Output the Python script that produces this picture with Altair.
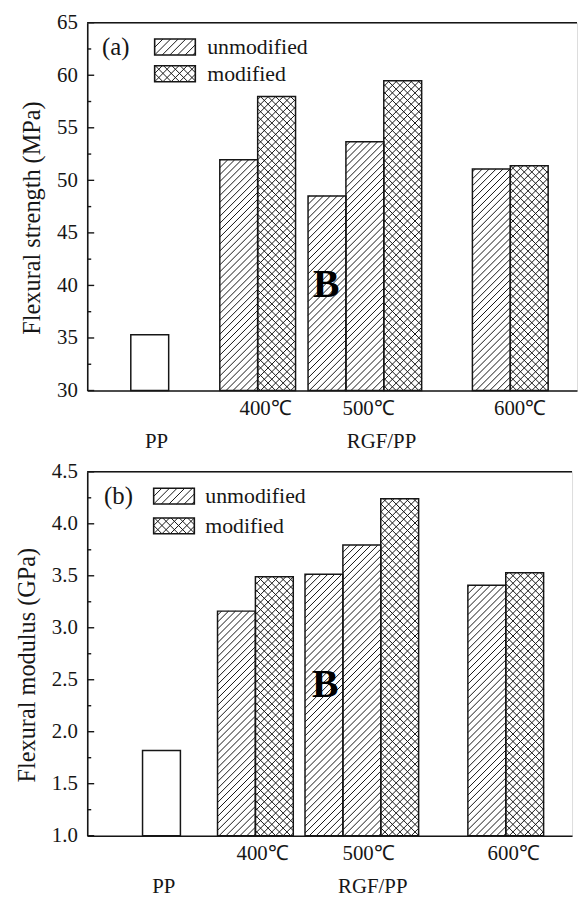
import altair as alt
import numpy as np
import pandas as pd

# ---------------- data ----------------
groups = ["PP", "400℃", "400℃", "500℃", "500℃", "500℃", "600℃", "600℃"]
series = ["neat", "unmodified", "modified", "unmodified", "unmodified", "modified", "unmodified", "modified"]
strength = [35.3, 51.95, 57.97, 48.52, 53.68, 59.48, 51.07, 51.38]      # MPa
modulus = [1.82, 3.16, 3.49, 3.515, 3.795, 4.24, 3.41, 3.53]             # GPa
# bar left edges on the (unlabelled) x axis, in bar-width units
x_strength = [1.15, 3.50, 4.50, 5.83, 6.83, 7.83, 10.17, 11.17]
x_modulus = [1.46, 3.44, 4.44, 5.75, 6.75, 7.75, 10.05, 11.05]

temp_labels = ["400℃", "500℃", "600℃"]
temp_x_strength = [4.71, 7.43, 11.43]
temp_x_modulus = [4.63, 7.43, 11.26]
sample_labels = ["PP", "RGF/PP"]
sample_x_strength = [1.83, 7.77]
sample_x_modulus = [2.02, 7.54]

legend_labels = ["unmodified", "modified"]
legend_series = ["unmodified", "modified"]

strength_ticks = [30, 35, 40, 45, 50, 55, 60, 65]
strength_minor = [32.5, 37.5, 42.5, 47.5, 52.5, 57.5, 62.5]
modulus_ticks = [1.0, 1.5, 2.0, 2.5, 3.0, 3.5, 4.0, 4.5]
modulus_minor = [1.25, 1.75, 2.25, 2.75, 3.25, 3.75, 4.25]

# ---------------- style ----------------
SERIF = "Liberation Serif"
INK = "#161616"
BAR_PX = 38.2          # pixels per x unit (one bar width)
HATCH = {"neat": [], "unmodified": [("/", 7.0)], "modified": [("/", 7.6), ("\\", 7.6)]}


def hatch_segments(w, h, spacing, kind, phase=0.0):
    """Line segments of a hatch pattern inside a w x h box (t measured upward)."""
    segs = []
    if kind == "/":
        lo, hi = -w, h
    else:
        lo, hi = 0.0, w + h
    k = np.ceil((lo - phase) / spacing)
    c = phase + k * spacing
    while c < hi:
        if kind == "/":
            u1, u2 = max(0.0, -c), min(w, h - c)
            if u2 - u1 > 0.4:
                segs.append((u1, u1 + c, u2, u2 + c))
        else:
            u1, u2 = max(0.0, c - h), min(w, c)
            if u2 - u1 > 0.4:
                segs.append((u1, c - u1, u2, c - u2))
        c += spacing
    return segs


def make_panel(values, lefts, y_lo, y_hi, major, minor, fmt, title, W, H,
               letter, letter_pos, t_x, s_x, leg, b_pos):
    x_hi = W / BAR_PX
    sx = BAR_PX
    sy = H / (y_hi - y_lo)
    xs = alt.Scale(domain=[0, x_hi], nice=False, zero=False)
    ys = alt.Scale(domain=[y_lo, y_hi], nice=False, zero=False)
    xaxis = alt.Axis(labels=False, ticks=False, grid=False, title=None,
                     domainColor=INK, domainWidth=1.6)
    yaxis = alt.Axis(values=major, format=fmt, title=title, grid=False, ticks=False,
                     tickSize=0, labelPadding=10, labelFont=SERIF, labelFontSize=21,
                     labelColor=INK, domainColor=INK, domainWidth=1.6,
                     titleFont=SERIF, titleFontSize=24.5, titleFontWeight="normal",
                     titleColor=INK, titlePadding=12, titleY=H / 2 + 11)

    def X(f):
        return alt.X(f, type="quantitative", scale=xs, axis=xaxis)

    def Y(f):
        return alt.Y(f, type="quantitative", scale=ys, axis=yaxis)

    bars = pd.DataFrame({"group": groups, "series": series, "value": values, "left": lefts})
    bars["right"] = bars["left"] + 1.0
    bars["base"] = y_lo

    rows = []
    for _, b in bars.iterrows():
        w = sx * (b.right - b.left)
        h = sy * (b.value - y_lo)
        left_px = b.left * sx
        for kind, sp in HATCH[b.series]:
            ph = (left_px % sp) if kind == "/" else ((-left_px) % sp)
            for u1, t1, u2, t2 in hatch_segments(w, h, sp, kind, ph):
                rows.append({"hx": b.left + u1 / sx, "hy": y_lo + t1 / sy,
                             "hx2": b.left + u2 / sx, "hy2": y_lo + t2 / sy})
    hatch_df = pd.DataFrame(rows)

    hatch_layer = alt.Chart(hatch_df).mark_rule(color=INK, strokeWidth=1).encode(
        x=X("hx"), x2="hx2", y=Y("hy"), y2="hy2")
    outline = alt.Chart(bars).mark_rect(fillOpacity=0, stroke=INK, strokeWidth=1.5).encode(
        x=X("left"), x2="right", y=Y("value"), y2="base")

    one = pd.DataFrame({"k": [0]})
    top_line = alt.Chart(one).mark_rule(color=INK, strokeWidth=1.6).encode(
        x=alt.value(0), x2=alt.value(W), y=alt.value(0))
    major_ticks = alt.Chart(pd.DataFrame({"v": major})).mark_rule(color=INK, strokeWidth=1.4).encode(
        y=Y("v"), x=alt.value(0), x2=alt.value(7))
    minor_ticks = alt.Chart(pd.DataFrame({"v": minor})).mark_rule(color=INK, strokeWidth=1.4).encode(
        y=Y("v"), x=alt.value(0), x2=alt.value(4))

    temp_text = alt.Chart(pd.DataFrame({"label": temp_labels, "pos": t_x})).mark_text(
        font=SERIF, fontSize=21, color=INK, baseline="alphabetic", align="center").encode(
        x=X("pos"), y=alt.value(H + 25), text="label:N")
    sample_text = alt.Chart(pd.DataFrame({"label": sample_labels, "pos": s_x})).mark_text(
        font=SERIF, fontSize=21, color=INK, baseline="alphabetic", align="center").encode(
        x=X("pos"), y=alt.value(H + 58), text="label:N")

    # legend (pixel space)
    lx0, lw, lh, lrows, ltx = leg
    lrect = pd.DataFrame({"label": legend_labels, "series": legend_series, "cy": lrows})
    lrect["rx1"] = lx0
    lrect["rx2"] = lx0 + lw
    lrect["ry1"] = lrect["cy"] - lh / 2
    lrect["ry2"] = lrect["cy"] + lh / 2
    lrows_seg = []
    for _, r in lrect.iterrows():
        for kind, sp in HATCH[r.series]:
            for u1, t1, u2, t2 in hatch_segments(lw, lh, sp * 1.1, kind, 0.0):
                lrows_seg.append({"px": r.rx1 + u1, "py": r.ry2 - t1,
                                  "px2": r.rx1 + u2, "py2": r.ry2 - t2})
    leg_hatch = alt.Chart(pd.DataFrame(lrows_seg)).mark_rule(color=INK, strokeWidth=1).encode(
        x=alt.X("px:Q", scale=None), x2="px2", y=alt.Y("py:Q", scale=None), y2="py2")
    leg_box = alt.Chart(lrect).mark_rect(fillOpacity=0, stroke=INK, strokeWidth=1.6).encode(
        x=alt.X("rx1:Q", scale=None), x2="rx2", y=alt.Y("ry1:Q", scale=None), y2="ry2")
    leg_text = alt.Chart(lrect).mark_text(font=SERIF, fontSize=22, color=INK,
                                          align="left", baseline="middle").encode(
        x=alt.value(ltx), y=alt.Y("cy:Q", scale=None), text="label:N")

    letter_mark = alt.Chart(one).mark_text(text=letter, font=SERIF, fontSize=25, color=INK,
                                           align="left", baseline="middle").encode(
        x=alt.value(letter_pos[0]), y=alt.value(letter_pos[1]))
    b_mark = alt.Chart(one).mark_text(text="B", font=SERIF, fontSize=40, fontWeight="bold",
                                      color="#000000", align="center", baseline="middle").encode(
        x=alt.value(b_pos[0]), y=alt.value(b_pos[1]))

    return alt.layer(hatch_layer, outline, top_line, major_ticks, minor_ticks,
                     temp_text, sample_text, leg_hatch, leg_box, leg_text,
                     letter_mark, b_mark).properties(width=W, height=H)


panel_a = make_panel(strength, x_strength, 30, 65, strength_ticks, strength_minor, "d",
                     "Flexural strength (MPa)", 494, 371, "(a)", (15, 25),
                     temp_x_strength, sample_x_strength,
                     (68, 41, 16, [24.5, 51.5], 121), (241, 265))
panel_b = make_panel(modulus, x_modulus, 1.0, 4.5, modulus_ticks, modulus_minor, ".1f",
                     "Flexural modulus (GPa)", 489, 367, "(b)", (17, 24),
                     temp_x_modulus, sample_x_modulus,
                     (67, 41, 16, [24.5, 54.5], 119), (240, 215))

chart = alt.concat(panel_a, panel_b, columns=1, spacing=7, align="none").properties(
    padding={"left": 14, "top": 7, "right": 0, "bottom": 0},
    background="white",
).configure_view(strokeWidth=0).configure(font=SERIF)

chart.save("out.html", embed_options={"renderer": "svg", "actions": False})
